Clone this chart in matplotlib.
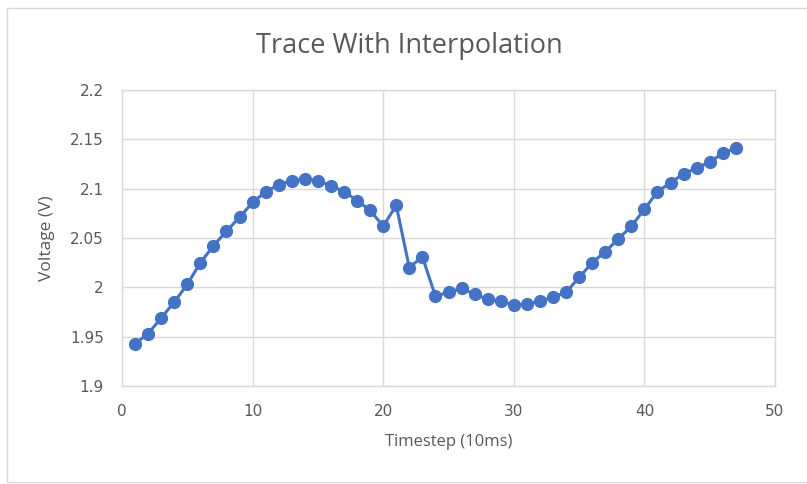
import matplotlib
matplotlib.use("Agg")
import matplotlib.pyplot as plt
from matplotlib.patches import Rectangle

timestep = list(range(1, 48))
voltage = [1.943, 1.953, 1.969, 1.985, 2.003, 2.025, 2.042, 2.057, 2.071, 2.086,
           2.097, 2.104, 2.108, 2.110, 2.108, 2.103, 2.097, 2.088, 2.078, 2.062,
           2.083, 2.020, 2.031, 1.991, 1.995, 1.999, 1.993, 1.988, 1.986, 1.982,
           1.983, 1.986, 1.990, 1.995, 2.010, 2.025, 2.036, 2.049, 2.062, 2.079,
           2.097, 2.106, 2.115, 2.121, 2.127, 2.136, 2.141]
x_ticks = [0, 10, 20, 30, 40, 50]
y_ticks = [1.9, 1.95, 2.0, 2.05, 2.1, 2.15, 2.2]
y_labels = ["1.9", "1.95", "2", "2.05", "2.1", "2.15", "2.2"]

plt.rcParams['font.family'] = ['Open Sans', 'DejaVu Sans']
W, H = 807, 484
fig = plt.figure(figsize=(W / 100, H / 100), dpi=100)
fig.patch.set_facecolor("white")

# outer chart border
fig.add_artist(Rectangle((7 / W, 1 - 482 / H), (W + 5 - 7) / W, (482 - 7.5) / H,
                         transform=fig.transFigure, fill=False,
                         edgecolor="#d9d9d9", linewidth=1.0))

left, right, top, bottom = 122, 775, 90, 386
ax = fig.add_axes([left / W, 1 - bottom / H, (right - left) / W, (bottom - top) / H])
ax.plot(timestep, voltage, color="#4472C4", linewidth=2.2, marker="o",
        markersize=8.5, markeredgecolor="#4472C4", markerfacecolor="#4472C4",
        zorder=3, clip_on=False)

ax.set_xlim(0, 50)
ax.set_ylim(1.9, 2.2)
ax.set_xticks(x_ticks)
ax.set_yticks(y_ticks)
ax.set_yticklabels(y_labels)
ax.grid(True, color="#d9d9d9", linewidth=1.0)
ax.set_axisbelow(True)
for s in ax.spines.values():
    s.set_color("#d9d9d9")
    s.set_linewidth(1.0)
ax.tick_params(length=0, colors="#595959", labelsize=11, pad=13)
for lab in ax.get_xticklabels() + ax.get_yticklabels():
    lab.set_family(['DejaVu Sans'])

ax.set_xlabel("Timestep (10ms)", fontsize=12, color="#595959", labelpad=11)
fig.text(47 / W, 1 - 238 / H, "Voltage (V)", rotation=90, ha="center",
         va="center", fontsize=12.5, color="#595959")
fig.text(409.5 / W, 1 - 46 / H, "Trace With Interpolation", ha="center",
         va="center", fontsize=19.5, color="#595959")

fig.savefig("out.png", dpi=100, facecolor="white")
